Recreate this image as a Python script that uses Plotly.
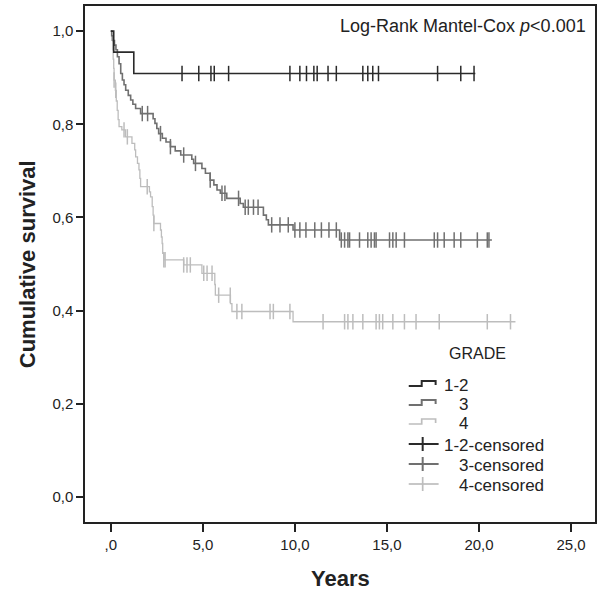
import plotly.graph_objects as go

# ---------------- data ----------------
grades = ["1-2", "3", "4"]

# Grade 1-2 : event times and survival after each event
g12_times = [0.16, 1.25]
g12_surv = [0.955, 0.909]
g12_end = 19.8
g12_cens = [3.87, 4.78, 5.44, 5.62, 6.40, 9.73, 10.27, 10.63, 11.03, 11.21,
            11.80, 12.25, 13.69, 13.96, 14.23, 14.54, 17.75, 19.01, 19.73]

# Grade 3
g3_times = [0.05, 0.12, 0.20, 0.28, 0.36, 0.45, 0.54, 0.63, 0.72, 0.81, 0.95,
            1.08, 1.20, 1.35, 1.62, 2.30, 2.40, 2.50, 2.60, 2.80, 3.00, 3.24,
            3.50, 3.80, 4.40, 4.50, 4.95, 5.14, 5.40, 5.60, 5.77, 5.95, 6.30,
            7.03, 7.20, 8.29, 8.45, 8.56, 9.90, 12.43]
g3_surv = [0.990, 0.980, 0.970, 0.960, 0.945, 0.930, 0.909, 0.895, 0.885, 0.873,
           0.862, 0.852, 0.843, 0.834, 0.823, 0.812, 0.802, 0.791, 0.780, 0.770,
           0.762, 0.752, 0.743, 0.734, 0.725, 0.716, 0.705, 0.695, 0.680, 0.670,
           0.659, 0.652, 0.641, 0.630, 0.622, 0.605, 0.595, 0.584, 0.573, 0.5515]
g3_end = 20.7
g3_cens = [1.71, 2.00, 2.70, 3.24, 3.96, 4.60, 5.40, 6.04, 6.20, 6.94, 7.30,
           7.47, 7.75, 8.00, 8.74, 9.19, 9.64, 10.00, 10.27, 10.60, 11.08,
           11.44, 11.85, 12.25, 12.52, 12.70, 12.88, 12.97, 13.51, 13.96,
           14.14, 14.32, 14.41, 15.14, 15.32, 15.50, 15.95, 17.57, 17.75,
           18.11, 18.65, 19.01, 19.91, 20.45, 20.54]

# Grade 4
g4_times = [0.05, 0.10, 0.13, 0.16, 0.18, 0.25, 0.30, 0.35, 0.40, 0.45, 0.60,
            0.80, 1.15, 1.30, 1.35, 1.45, 1.53, 1.58, 1.62, 2.10, 2.16, 2.25,
            2.30, 2.34, 2.70, 2.75, 2.79, 2.82, 2.88, 3.96, 4.95, 5.65, 5.68,
            6.50, 6.58, 9.90]
g4_surv = [0.980, 0.960, 0.940, 0.920, 0.895, 0.873, 0.850, 0.830, 0.810, 0.795,
           0.788, 0.773, 0.759, 0.745, 0.730, 0.716, 0.702, 0.684, 0.666, 0.655,
           0.644, 0.623, 0.605, 0.587, 0.573, 0.558, 0.544, 0.523, 0.509, 0.498,
           0.480, 0.456, 0.433, 0.415, 0.398, 0.376]
g4_end = 21.98
g4_cens = [0.18, 0.27, 0.72, 0.90, 1.98, 2.34, 2.88, 2.95, 3.96, 4.14, 4.32,
           5.05, 5.23, 5.50, 5.86, 6.49, 6.85, 7.12, 8.65, 8.83, 9.73, 11.53,
           12.70, 12.88, 13.15, 13.69, 14.41, 14.59, 14.77, 15.32, 15.95, 16.58,
           17.84, 20.45, 21.71]

x_ticks = [0, 5, 10, 15, 20, 25]
x_ticklabels = [",0", "5,0", "10,0", "15,0", "20,0", "25,0"]
y_ticks = [0.0, 0.2, 0.4, 0.6, 0.8, 1.0]
y_ticklabels = ["0,0", "0,2", "0,4", "0,6", "0,8", "1,0"]

legend_title = "GRADE"
legend_curve_labels = ["1-2", "3", "4"]
legend_cens_labels = ["1-2-censored", "3-censored", "4-censored"]

colors = {"1-2": "#2a2a2a", "3": "#707070", "4": "#bdbdbd"}
widths = {"1-2": 1.6, "3": 1.6, "4": 1.3}

series = {
    "1-2": (g12_times, g12_surv, g12_end, g12_cens),
    "3": (g3_times, g3_surv, g3_end, g3_cens),
    "4": (g4_times, g4_surv, g4_end, g4_cens),
}


def surv_at(times, surv, t):
    s = 1.0
    for ti, si in zip(times, surv):
        if ti <= t:
            s = si
    return s


W, H = 599, 592
ML, MR, MT, MB = 85, 2, 6, 70
PW, PH = W - ML - MR, H - MT - MB


def px(xpix):
    return (xpix - ML) / PW


def py(ypix):
    return (H - MB - ypix) / PH


fig = go.Figure()
FONT = "Liberation Sans, Arial, sans-serif"

# draw light curves first so darker ones sit on top
for g in ["4", "3", "1-2"]:
    times, surv, end, cens = series[g]
    xs = [0.0] + times + [end]
    ys = [1.0] + surv + [surv[-1]]
    fig.add_trace(go.Scatter(
        x=xs, y=ys, mode="lines", line=dict(shape="hv", color=colors[g], width=widths[g]),
        name=g, showlegend=False, hoverinfo="skip"))
    cy = [surv_at(times, surv, t) for t in cens]
    fig.add_trace(go.Scatter(
        x=cens, y=cy, mode="markers", showlegend=False, name=g + "-censored",
        marker=dict(symbol="line-ns", size=11, color=colors[g],
                    line=dict(color=colors[g], width=1.5)),
        hoverinfo="skip"))

# ---- legend (SPSS style) ----
shapes = []
annos = []
curve_rows = [385, 404, 423]
cens_rows = [445, 465, 485]
label_x = {"1-2": 443, "3": 458, "4": 458}
for g, lab, yc in zip(grades, legend_curve_labels, curve_rows):
    path = "M {:.4f},{:.4f} L {:.4f},{:.4f} L {:.4f},{:.4f} L {:.4f},{:.4f} L {:.4f},{:.4f}".format(
        px(410), py(yc + 1), px(423), py(yc + 1), px(423), py(yc - 4),
        px(437), py(yc - 4), px(437), py(yc))
    shapes.append(dict(type="path", xref="paper", yref="paper", path=path,
                       line=dict(color=colors[g], width=widths[g] + 0.4)))
    annos.append(dict(x=px(label_x[g]), y=py(yc), xref="paper", yref="paper",
                      xanchor="left", yanchor="middle", showarrow=False, text=lab,
                      font=dict(family=FONT, size=17, color="#222")))
for g, lab, yc in zip(grades, legend_cens_labels, cens_rows):
    shapes.append(dict(type="line", xref="paper", yref="paper",
                       x0=px(410), x1=px(440), y0=py(yc - 1), y1=py(yc - 1),
                       line=dict(color=colors[g], width=widths[g] + 0.4)))
    shapes.append(dict(type="line", xref="paper", yref="paper",
                       x0=px(424), x1=px(424), y0=py(yc - 8), y1=py(yc + 6),
                       line=dict(color=colors[g], width=widths[g] + 0.4)))
    annos.append(dict(x=px(label_x[g]), y=py(yc), xref="paper", yref="paper",
                      xanchor="left", yanchor="middle", showarrow=False, text=lab,
                      font=dict(family=FONT, size=17, color="#222")))
annos.append(dict(x=px(448), y=py(353), xref="paper", yref="paper", xanchor="left",
                  yanchor="middle", showarrow=False, text=legend_title,
                  font=dict(family=FONT, size=16, color="#222")))

annos.append(dict(x=px(590), y=py(26), xref="paper", yref="paper", xanchor="right",
                  yanchor="middle", showarrow=False,
                  text="Log-Rank Mantel-Cox <i>p</i>&lt;0.001",
                  font=dict(family=FONT, size=18, color="#222")))
annos.append(dict(x=12.5, y=py(578), xref="x", yref="paper", xanchor="center",
                  yanchor="middle", showarrow=False, text="<b>Years</b>",
                  font=dict(family=FONT, size=22, color="#222")))
annos.append(dict(x=px(27), y=py(264), xref="paper", yref="paper", xanchor="center",
                  yanchor="middle", showarrow=False, textangle=-90,
                  text="<b>Cumulative survival</b>",
                  font=dict(family=FONT, size=22, color="#222")))

fig.update_layout(
    width=W, height=H,
    margin=dict(l=ML, r=MR, t=MT, b=MB),
    paper_bgcolor="white", plot_bgcolor="white",
    font=dict(family=FONT, size=15, color="#222"),
    showlegend=False,
    shapes=shapes,
    annotations=annos,
)
fig.update_xaxes(range=[-1.4, 26.3], tickvals=x_ticks, ticktext=x_ticklabels,
                 showgrid=False, zeroline=False, showline=True, mirror=True,
                 linecolor="#222", linewidth=1.5, ticks="outside", ticklen=8,
                 tickwidth=1.5, tickcolor="#222", tickfont=dict(size=15))
fig.update_yaxes(range=[-0.054, 1.054], tickvals=y_ticks, ticktext=y_ticklabels,
                 showgrid=False, zeroline=False, showline=True, mirror=True,
                 linecolor="#222", linewidth=1.5, ticks="outside", ticklen=7,
                 tickwidth=1.5, tickcolor="#222", tickfont=dict(size=15))

fig.write_html("out.html", post_script="document.body.style.margin='0';",
               config={"displayModeBar": False})
